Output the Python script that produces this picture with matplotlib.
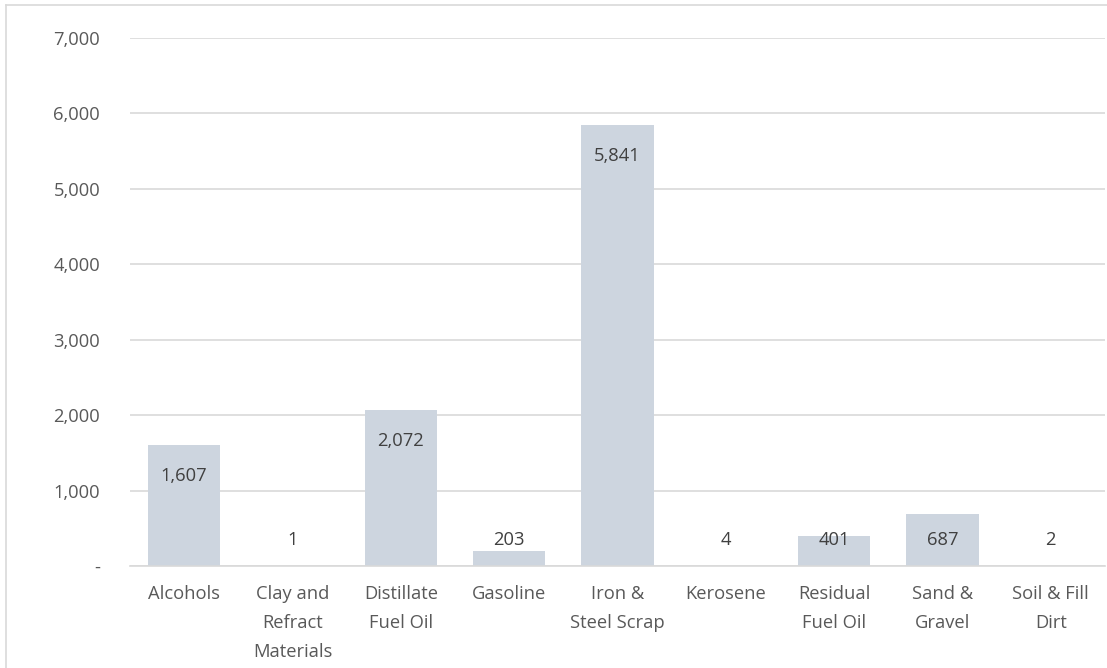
import matplotlib
matplotlib.use("Agg")
import matplotlib.pyplot as plt
from matplotlib.lines import Line2D
from matplotlib.ticker import FuncFormatter

categories = ["Alcohols", "Clay and\nRefract\nMaterials", "Distillate\nFuel Oil",
              "Gasoline", "Iron &\nSteel Scrap", "Kerosene", "Residual\nFuel Oil",
              "Sand &\nGravel", "Soil & Fill\nDirt"]
values = [1607, 1, 2072, 203, 5841, 4, 401, 687, 2]
yticks = [0, 1000, 2000, 3000, 4000, 5000, 6000, 7000]

W, H = 1107, 668
plt.rcParams["font.family"] = ["Open Sans", "DejaVu Sans"]
text_color = "#595959"
bar_color = "#CDD5DF"
grid_color = "#D9D9D9"
fs = 13.2

fig = plt.figure(figsize=(W / 100, H / 100), dpi=100)
ax = fig.add_axes([130 / W, 1 - 566 / H, (1105 - 130) / W, (566 - 38) / H])

x = list(range(len(categories)))
ax.bar(x, values, width=0.67, color=bar_color, zorder=2)

ax.set_xlim(-0.5, len(categories) - 0.5)
ax.set_ylim(0, 7000)
ax.set_yticks(yticks)
ax.yaxis.set_major_formatter(FuncFormatter(lambda v, p: "-" if v == 0 else f"{int(v):,}"))
ax.set_xticks(x)
ax.set_xticklabels(categories, fontsize=fs, color=text_color, linespacing=1.76)
ax.tick_params(axis="both", length=0, labelsize=fs, labelcolor=text_color)
ax.tick_params(axis="y", pad=21.5)
ax.tick_params(axis="x", pad=14)
for lab in ax.get_yticklabels():
    lab.set_horizontalalignment("right")

ax.grid(axis="y", color=grid_color, linewidth=1.2, zorder=0)
for s in ["top", "right", "left"]:
    ax.spines[s].set_visible(False)
ax.spines["bottom"].set_color(grid_color)
ax.spines["bottom"].set_linewidth(1.2)
ax.spines["bottom"].set_zorder(3)

# Value labels: inside the top of each bar, kept above the baseline for short bars
for xi, v in zip(x, values):
    ly = max(v - 411, 345)
    ax.text(xi, ly, f"{v:,}", ha="center", va="center", fontsize=fs,
            color="#404040", zorder=4)

# Chart frame
fig.add_artist(Line2D([6 / W, 6 / W], [0, 1 - 5 / H], transform=fig.transFigure,
                      color=grid_color, linewidth=1.2))
fig.add_artist(Line2D([6 / W, 1], [1 - 5 / H, 1 - 5 / H], transform=fig.transFigure,
                      color=grid_color, linewidth=1.2))

fig.savefig("out.png", dpi=100)
